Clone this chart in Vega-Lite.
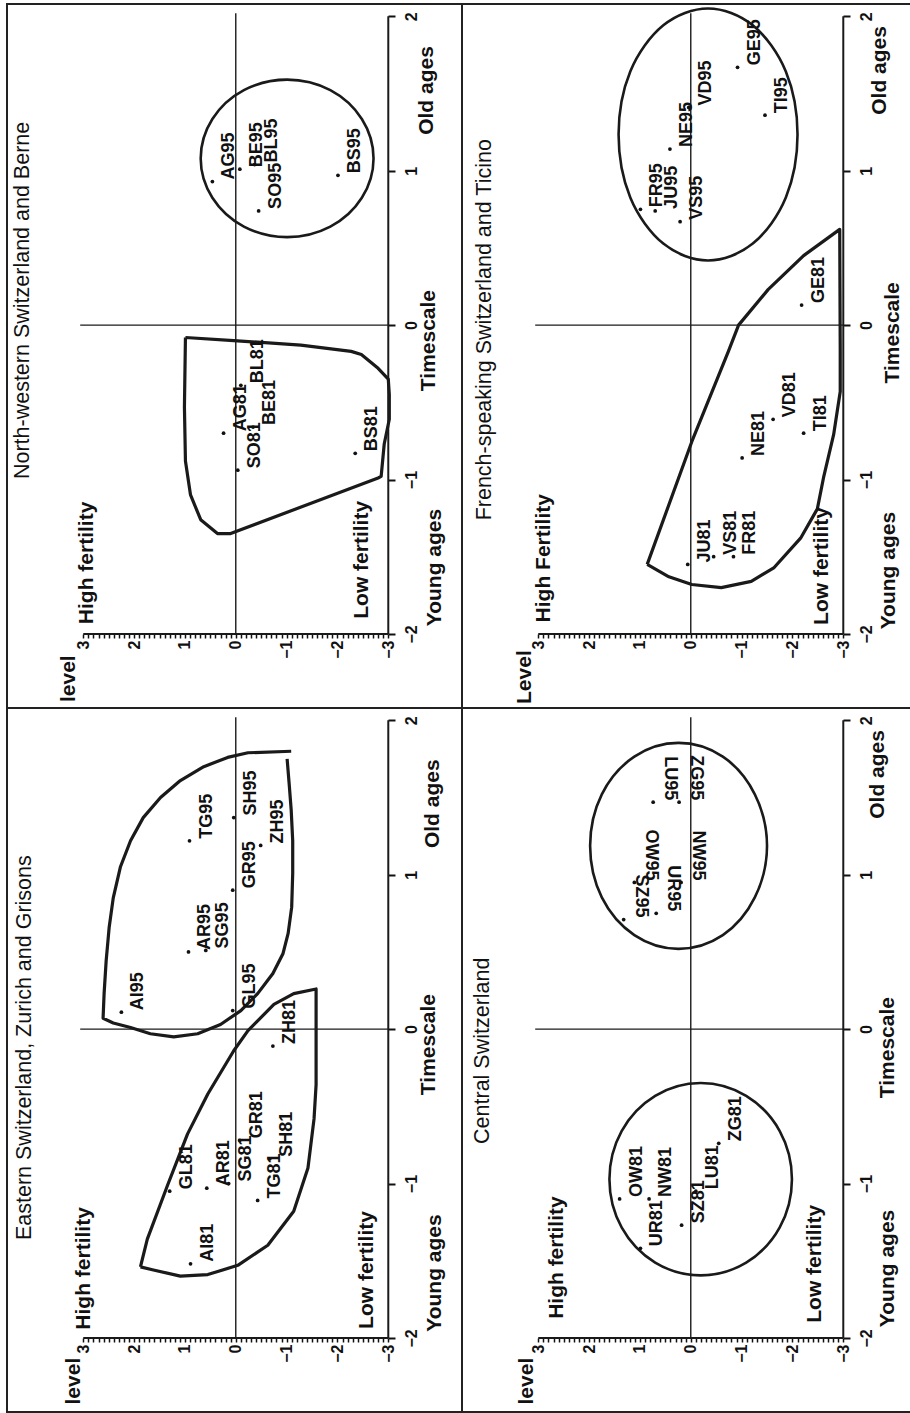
{
  "$schema": "https://vega.github.io/schema/vega-lite/v6.json",
  "padding": {"left": 6, "top": 2, "right": 0, "bottom": 0},
  "background": "white",
  "data": {"values": [
    {"type":"ref","panel":"NW","line":"cross","level":0,"level2":0,"ts":-2,"ts2":2.02},
    {"type":"ref","panel":"NW","line":"cross","level":3.06,"level2":-3,"ts":0,"ts2":0},
    {"type":"ref","panel":"NW","line":"axis","level":3,"level2":-3,"ts":-2,"ts2":-2},
    {"type":"ref","panel":"NW","line":"axis","level":-3,"level2":-3,"ts":-2,"ts2":2},
    {"type":"ref","panel":"FR","line":"cross","level":0,"level2":0,"ts":-2,"ts2":2.02},
    {"type":"ref","panel":"FR","line":"cross","level":3.06,"level2":-3,"ts":0,"ts2":0},
    {"type":"ref","panel":"FR","line":"axis","level":3,"level2":-3,"ts":-2,"ts2":-2},
    {"type":"ref","panel":"FR","line":"axis","level":-3,"level2":-3,"ts":-2,"ts2":2},
    {"type":"ref","panel":"EA","line":"cross","level":0,"level2":0,"ts":-2,"ts2":2.02},
    {"type":"ref","panel":"EA","line":"cross","level":3.06,"level2":-3,"ts":0,"ts2":0},
    {"type":"ref","panel":"EA","line":"axis","level":3,"level2":-3,"ts":-2,"ts2":-2},
    {"type":"ref","panel":"EA","line":"axis","level":-3,"level2":-3,"ts":-2,"ts2":2},
    {"type":"ref","panel":"CE","line":"cross","level":0,"level2":0,"ts":-2,"ts2":2.02},
    {"type":"ref","panel":"CE","line":"cross","level":3.06,"level2":-3,"ts":0,"ts2":0},
    {"type":"ref","panel":"CE","line":"axis","level":3,"level2":-3,"ts":-2,"ts2":-2},
    {"type":"ref","panel":"CE","line":"axis","level":-3,"level2":-3,"ts":-2,"ts2":2},

    {"type":"title","panel":"NW","label":"North-western Switzerland and Berne","level":4.18,"ts":0.16},
    {"type":"note","panel":"NW","label":"level","level":3.28,"ts":-2.29},
    {"type":"note","panel":"NW","label":"High fertility","level":2.92,"ts":-1.54},
    {"type":"note","panel":"NW","label":"Low fertility","level":-2.49,"ts":-1.52},
    {"type":"note","panel":"NW","label":"Young ages","level":-3.91,"ts":-1.57},
    {"type":"note","panel":"NW","label":"Timescale","level":-3.81,"ts":-0.1},
    {"type":"note","panel":"NW","label":"Old ages","level":-3.77,"ts":1.52},
    {"type":"title","panel":"FR","label":"French-speaking Switzerland and Ticino","level":4.05,"ts":-0.03},
    {"type":"note","panel":"FR","label":"Level","level":3.27,"ts":-2.28},
    {"type":"note","panel":"FR","label":"High Fertility","level":2.88,"ts":-1.51},
    {"type":"note","panel":"FR","label":"Low fertility","level":-2.59,"ts":-1.56},
    {"type":"note","panel":"FR","label":"Young ages","level":-3.9,"ts":-1.59},
    {"type":"note","panel":"FR","label":"Timescale","level":-3.97,"ts":-0.05},
    {"type":"note","panel":"FR","label":"Old ages","level":-3.72,"ts":1.65},
    {"type":"title","panel":"EA","label":"Eastern Switzerland, Zurich and Grisons","level":4.14,"ts":-0.12},
    {"type":"note","panel":"EA","label":"level","level":3.18,"ts":-2.28},
    {"type":"note","panel":"EA","label":"High fertility","level":2.98,"ts":-1.55},
    {"type":"note","panel":"EA","label":"Low fertility","level":-2.59,"ts":-1.56},
    {"type":"note","panel":"EA","label":"Young ages","level":-3.91,"ts":-1.58},
    {"type":"note","panel":"EA","label":"Timescale","level":-3.81,"ts":-0.1},
    {"type":"note","panel":"EA","label":"Old ages","level":-3.87,"ts":1.46},
    {"type":"title","panel":"CE","label":"Central Switzerland","level":4.09,"ts":-0.14},
    {"type":"note","panel":"CE","label":"level","level":3.23,"ts":-2.28},
    {"type":"note","panel":"CE","label":"High fertility","level":2.63,"ts":-1.48},
    {"type":"note","panel":"CE","label":"Low fertility","level":-2.45,"ts":-1.52},
    {"type":"note","panel":"CE","label":"Young ages","level":-3.88,"ts":-1.55},
    {"type":"note","panel":"CE","label":"Timescale","level":-3.88,"ts":-0.12},
    {"type":"note","panel":"CE","label":"Old ages","level":-3.68,"ts":1.65},

    {"type":"obs","panel":"NW","label":"AG95","year":95,"level":0.46,"ts":0.93},
    {"type":"obs","panel":"NW","label":"BE95","year":95,"level":-0.08,"ts":1.01},
    {"type":"obs","panel":"NW","label":"SO95","year":95,"level":-0.45,"ts":0.74},
    {"type":"obs","panel":"NW","label":"BL95","year":95,"level":-0.37,"ts":1.04},
    {"type":"obs","panel":"NW","label":"BS95","year":95,"level":-2.01,"ts":0.97},
    {"type":"obs","panel":"NW","label":"AG81","year":81,"level":0.24,"ts":-0.70},
    {"type":"obs","panel":"NW","label":"SO81","year":81,"level":-0.04,"ts":-0.94},
    {"type":"obs","panel":"NW","label":"BL81","year":81,"level":-0.10,"ts":-0.39},
    {"type":"obs","panel":"NW","label":"BE81","year":81,"level":-0.34,"ts":-0.66},
    {"type":"obs","panel":"NW","label":"BS81","year":81,"level":-2.35,"ts":-0.83},

    {"type":"obs","panel":"EA","label":"AI95","year":95,"level":2.25,"ts":0.11},
    {"type":"obs","panel":"EA","label":"AR95","year":95,"level":0.93,"ts":0.50},
    {"type":"obs","panel":"EA","label":"SG95","year":95,"level":0.59,"ts":0.51},
    {"type":"obs","panel":"EA","label":"TG95","year":95,"level":0.91,"ts":1.22},
    {"type":"obs","panel":"EA","label":"GL95","year":95,"level":0.06,"ts":0.12},
    {"type":"obs","panel":"EA","label":"GR95","year":95,"level":0.06,"ts":0.90},
    {"type":"obs","panel":"EA","label":"ZH95","year":95,"level":-0.49,"ts":1.19},
    {"type":"obs","panel":"EA","label":"SH95","year":95,"level":0.04,"ts":1.37},
    {"type":"obs","panel":"EA","label":"AI81","year":81,"level":0.89,"ts":-1.52},
    {"type":"obs","panel":"EA","label":"GL81","year":81,"level":1.30,"ts":-1.05},
    {"type":"obs","panel":"EA","label":"AR81","year":81,"level":0.57,"ts":-1.03},
    {"type":"obs","panel":"EA","label":"SG81","year":81,"level":0.14,"ts":-1.00},
    {"type":"obs","panel":"EA","label":"GR81","year":81,"level":-0.08,"ts":-0.72},
    {"type":"obs","panel":"EA","label":"TG81","year":81,"level":-0.43,"ts":-1.11},
    {"type":"obs","panel":"EA","label":"SH81","year":81,"level":-0.67,"ts":-0.84},
    {"type":"obs","panel":"EA","label":"ZH81","year":81,"level":-0.73,"ts":-0.11},

    {"type":"obs","panel":"CE","label":"SZ95","year":95,"level":1.32,"ts":0.71},
    {"type":"obs","panel":"CE","label":"OW95","year":95,"level":1.11,"ts":0.95},
    {"type":"obs","panel":"CE","label":"UR95","year":95,"level":0.68,"ts":0.75},
    {"type":"obs","panel":"CE","label":"NW95","year":95,"level":0.19,"ts":0.95},
    {"type":"obs","panel":"CE","label":"LU95","year":95,"level":0.74,"ts":1.47},
    {"type":"obs","panel":"CE","label":"ZG95","year":95,"level":0.23,"ts":1.47},
    {"type":"obs","panel":"CE","label":"OW81","year":81,"level":1.40,"ts":-1.10},
    {"type":"obs","panel":"CE","label":"UR81","year":81,"level":0.99,"ts":-1.42},
    {"type":"obs","panel":"CE","label":"NW81","year":81,"level":0.82,"ts":-1.10},
    {"type":"obs","panel":"CE","label":"SZ81","year":81,"level":0.18,"ts":-1.27},
    {"type":"obs","panel":"CE","label":"LU81","year":81,"level":-0.10,"ts":-1.05},
    {"type":"obs","panel":"CE","label":"ZG81","year":81,"level":-0.55,"ts":-0.74},

    {"type":"obs","panel":"FR","label":"FR95","year":95,"level":0.99,"ts":0.75},
    {"type":"obs","panel":"FR","label":"JU95","year":95,"level":0.70,"ts":0.74},
    {"type":"obs","panel":"FR","label":"VS95","year":95,"level":0.21,"ts":0.67},
    {"type":"obs","panel":"FR","label":"NE95","year":95,"level":0.41,"ts":1.14},
    {"type":"obs","panel":"FR","label":"VD95","year":95,"level":0.04,"ts":1.41},
    {"type":"obs","panel":"FR","label":"GE95","year":95,"level":-0.92,"ts":1.67},
    {"type":"obs","panel":"FR","label":"TI95","year":95,"level":-1.46,"ts":1.36},
    {"type":"obs","panel":"FR","label":"JU81","year":81,"level":0.06,"ts":-1.55},
    {"type":"obs","panel":"FR","label":"VS81","year":81,"level":-0.45,"ts":-1.50},
    {"type":"obs","panel":"FR","label":"FR81","year":81,"level":-0.84,"ts":-1.50},
    {"type":"obs","panel":"FR","label":"NE81","year":81,"level":-1.01,"ts":-0.86},
    {"type":"obs","panel":"FR","label":"VD81","year":81,"level":-1.62,"ts":-0.61},
    {"type":"obs","panel":"FR","label":"TI81","year":81,"level":-2.22,"ts":-0.70},
    {"type":"obs","panel":"FR","label":"GE81","year":81,"level":-2.18,"ts":0.13},

    {"type":"outline","panel":"NW","shape":"NW95","i":0,"level":0.69,"ts":1.08},
    {"type":"outline","panel":"NW","shape":"NW95","i":1,"level":0.46,"ts":1.335},
    {"type":"outline","panel":"NW","shape":"NW95","i":2,"level":-0.16,"ts":1.522},
    {"type":"outline","panel":"NW","shape":"NW95","i":3,"level":-1.01,"ts":1.59},
    {"type":"outline","panel":"NW","shape":"NW95","i":4,"level":-1.86,"ts":1.522},
    {"type":"outline","panel":"NW","shape":"NW95","i":5,"level":-2.48,"ts":1.335},
    {"type":"outline","panel":"NW","shape":"NW95","i":6,"level":-2.71,"ts":1.08},
    {"type":"outline","panel":"NW","shape":"NW95","i":7,"level":-2.48,"ts":0.825},
    {"type":"outline","panel":"NW","shape":"NW95","i":8,"level":-1.86,"ts":0.638},
    {"type":"outline","panel":"NW","shape":"NW95","i":9,"level":-1.01,"ts":0.57},
    {"type":"outline","panel":"NW","shape":"NW95","i":10,"level":-0.16,"ts":0.638},
    {"type":"outline","panel":"NW","shape":"NW95","i":11,"level":0.46,"ts":0.825},

    {"type":"outline","panel":"FR","shape":"FR95","i":0,"level":1.42,"ts":1.235},
    {"type":"outline","panel":"FR","shape":"FR95","i":1,"level":1.19,"ts":1.643},
    {"type":"outline","panel":"FR","shape":"FR95","i":2,"level":0.54,"ts":1.942},
    {"type":"outline","panel":"FR","shape":"FR95","i":3,"level":-0.34,"ts":2.051},
    {"type":"outline","panel":"FR","shape":"FR95","i":4,"level":-1.22,"ts":1.942},
    {"type":"outline","panel":"FR","shape":"FR95","i":5,"level":-1.87,"ts":1.643},
    {"type":"outline","panel":"FR","shape":"FR95","i":6,"level":-2.10,"ts":1.235},
    {"type":"outline","panel":"FR","shape":"FR95","i":7,"level":-1.87,"ts":0.827},
    {"type":"outline","panel":"FR","shape":"FR95","i":8,"level":-1.22,"ts":0.528},
    {"type":"outline","panel":"FR","shape":"FR95","i":9,"level":-0.34,"ts":0.419},
    {"type":"outline","panel":"FR","shape":"FR95","i":10,"level":0.54,"ts":0.528},
    {"type":"outline","panel":"FR","shape":"FR95","i":11,"level":1.19,"ts":0.827},

    {"type":"outline","panel":"CE","shape":"CE95","i":0,"level":1.98,"ts":1.187},
    {"type":"outline","panel":"CE","shape":"CE95","i":1,"level":1.75,"ts":1.521},
    {"type":"outline","panel":"CE","shape":"CE95","i":2,"level":1.11,"ts":1.765},
    {"type":"outline","panel":"CE","shape":"CE95","i":3,"level":0.24,"ts":1.854},
    {"type":"outline","panel":"CE","shape":"CE95","i":4,"level":-0.63,"ts":1.765},
    {"type":"outline","panel":"CE","shape":"CE95","i":5,"level":-1.26,"ts":1.521},
    {"type":"outline","panel":"CE","shape":"CE95","i":6,"level":-1.50,"ts":1.187},
    {"type":"outline","panel":"CE","shape":"CE95","i":7,"level":-1.26,"ts":0.853},
    {"type":"outline","panel":"CE","shape":"CE95","i":8,"level":-0.63,"ts":0.609},
    {"type":"outline","panel":"CE","shape":"CE95","i":9,"level":0.24,"ts":0.52},
    {"type":"outline","panel":"CE","shape":"CE95","i":10,"level":1.11,"ts":0.609},
    {"type":"outline","panel":"CE","shape":"CE95","i":11,"level":1.75,"ts":0.853},

    {"type":"outline","panel":"CE","shape":"CE81","i":0,"level":1.60,"ts":-0.972},
    {"type":"outline","panel":"CE","shape":"CE81","i":1,"level":1.36,"ts":-0.66},
    {"type":"outline","panel":"CE","shape":"CE81","i":2,"level":0.70,"ts":-0.432},
    {"type":"outline","panel":"CE","shape":"CE81","i":3,"level":-0.195,"ts":-0.349},
    {"type":"outline","panel":"CE","shape":"CE81","i":4,"level":-1.09,"ts":-0.432},
    {"type":"outline","panel":"CE","shape":"CE81","i":5,"level":-1.75,"ts":-0.66},
    {"type":"outline","panel":"CE","shape":"CE81","i":6,"level":-1.99,"ts":-0.972},
    {"type":"outline","panel":"CE","shape":"CE81","i":7,"level":-1.75,"ts":-1.284},
    {"type":"outline","panel":"CE","shape":"CE81","i":8,"level":-1.09,"ts":-1.512},
    {"type":"outline","panel":"CE","shape":"CE81","i":9,"level":-0.195,"ts":-1.595},
    {"type":"outline","panel":"CE","shape":"CE81","i":10,"level":0.70,"ts":-1.512},
    {"type":"outline","panel":"CE","shape":"CE81","i":11,"level":1.36,"ts":-1.284},

    {"type":"outline","panel":"NW","shape":"NW81","i":0,"level":0.99,"ts":-0.08},
    {"type":"outline","panel":"NW","shape":"NW81","i":1,"level":0.04,"ts":-0.10},
    {"type":"outline","panel":"NW","shape":"NW81","i":2,"level":-1.28,"ts":-0.13},
    {"type":"outline","panel":"NW","shape":"NW81","i":3,"level":-2.27,"ts":-0.17},
    {"type":"outline","panel":"NW","shape":"NW81","i":4,"level":-2.47,"ts":-0.19},
    {"type":"outline","panel":"NW","shape":"NW81","i":5,"level":-2.80,"ts":-0.28},
    {"type":"outline","panel":"NW","shape":"NW81","i":6,"level":-3.00,"ts":-0.35},
    {"type":"outline","panel":"NW","shape":"NW81","i":7,"level":-3.02,"ts":-0.45},
    {"type":"outline","panel":"NW","shape":"NW81","i":8,"level":-3.02,"ts":-0.61},
    {"type":"outline","panel":"NW","shape":"NW81","i":9,"level":-2.92,"ts":-0.77},
    {"type":"outline","panel":"NW","shape":"NW81","i":10,"level":-2.86,"ts":-0.98},
    {"type":"outline","panel":"NW","shape":"NW81","i":11,"level":-2.80,"ts":-0.99},
    {"type":"outline","panel":"NW","shape":"NW81","i":12,"level":0.10,"ts":-1.35},
    {"type":"outline","panel":"NW","shape":"NW81","i":13,"level":0.36,"ts":-1.35},
    {"type":"outline","panel":"NW","shape":"NW81","i":14,"level":0.69,"ts":-1.26},
    {"type":"outline","panel":"NW","shape":"NW81","i":15,"level":0.89,"ts":-1.10},
    {"type":"outline","panel":"NW","shape":"NW81","i":16,"level":0.99,"ts":-0.88},
    {"type":"outline","panel":"NW","shape":"NW81","i":17,"level":1.01,"ts":-0.53},
    {"type":"outline","panel":"NW","shape":"NW81","i":18,"level":0.99,"ts":-0.08},

    {"type":"outline","panel":"EA","shape":"EA81","i":0,"level":1.875,"ts":-1.54},
    {"type":"outline","panel":"EA","shape":"EA81","i":1,"level":1.74,"ts":-1.36},
    {"type":"outline","panel":"EA","shape":"EA81","i":2,"level":1.34,"ts":-1.01},
    {"type":"outline","panel":"EA","shape":"EA81","i":3,"level":0.95,"ts":-0.68},
    {"type":"outline","panel":"EA","shape":"EA81","i":4,"level":0.55,"ts":-0.42},
    {"type":"outline","panel":"EA","shape":"EA81","i":5,"level":0.04,"ts":-0.14},
    {"type":"outline","panel":"EA","shape":"EA81","i":6,"level":-0.24,"ts":-0.01},
    {"type":"outline","panel":"EA","shape":"EA81","i":7,"level":-0.75,"ts":0.16},
    {"type":"outline","panel":"EA","shape":"EA81","i":8,"level":-1.14,"ts":0.23},
    {"type":"outline","panel":"EA","shape":"EA81","i":9,"level":-1.58,"ts":0.26},
    {"type":"outline","panel":"EA","shape":"EA81","i":10,"level":-1.58,"ts":-0.14},
    {"type":"outline","panel":"EA","shape":"EA81","i":11,"level":-1.58,"ts":-0.36},
    {"type":"outline","panel":"EA","shape":"EA81","i":12,"level":-1.54,"ts":-0.58},
    {"type":"outline","panel":"EA","shape":"EA81","i":13,"level":-1.42,"ts":-0.90},
    {"type":"outline","panel":"EA","shape":"EA81","i":14,"level":-1.14,"ts":-1.18},
    {"type":"outline","panel":"EA","shape":"EA81","i":15,"level":-0.63,"ts":-1.40},
    {"type":"outline","panel":"EA","shape":"EA81","i":16,"level":-0.04,"ts":-1.53},
    {"type":"outline","panel":"EA","shape":"EA81","i":17,"level":0.55,"ts":-1.59},
    {"type":"outline","panel":"EA","shape":"EA81","i":18,"level":1.09,"ts":-1.60},
    {"type":"outline","panel":"EA","shape":"EA81","i":19,"level":1.62,"ts":-1.56},
    {"type":"outline","panel":"EA","shape":"EA81","i":20,"level":1.875,"ts":-1.54},

    {"type":"outline","panel":"EA","shape":"EA95","i":0,"level":-1.01,"ts":1.75},
    {"type":"outline","panel":"EA","shape":"EA95","i":1,"level":-1.05,"ts":1.59},
    {"type":"outline","panel":"EA","shape":"EA95","i":2,"level":-1.09,"ts":1.42},
    {"type":"outline","panel":"EA","shape":"EA95","i":3,"level":-1.12,"ts":1.22},
    {"type":"outline","panel":"EA","shape":"EA95","i":4,"level":-1.12,"ts":1.01},
    {"type":"outline","panel":"EA","shape":"EA95","i":5,"level":-1.10,"ts":0.79},
    {"type":"outline","panel":"EA","shape":"EA95","i":6,"level":-1.03,"ts":0.62},
    {"type":"outline","panel":"EA","shape":"EA95","i":7,"level":-0.93,"ts":0.49},
    {"type":"outline","panel":"EA","shape":"EA95","i":8,"level":-0.73,"ts":0.36},
    {"type":"outline","panel":"EA","shape":"EA95","i":9,"level":-0.43,"ts":0.23},
    {"type":"outline","panel":"EA","shape":"EA95","i":10,"level":-0.10,"ts":0.12},
    {"type":"outline","panel":"EA","shape":"EA95","i":11,"level":0.30,"ts":0.03},
    {"type":"outline","panel":"EA","shape":"EA95","i":12,"level":0.75,"ts":-0.03},
    {"type":"outline","panel":"EA","shape":"EA95","i":13,"level":1.22,"ts":-0.05},
    {"type":"outline","panel":"EA","shape":"EA95","i":14,"level":1.68,"ts":-0.03},
    {"type":"outline","panel":"EA","shape":"EA95","i":15,"level":2.07,"ts":0.01},
    {"type":"outline","panel":"EA","shape":"EA95","i":16,"level":2.41,"ts":0.04},
    {"type":"outline","panel":"EA","shape":"EA95","i":17,"level":2.61,"ts":0.07},
    {"type":"outline","panel":"EA","shape":"EA95","i":18,"level":2.59,"ts":0.23},
    {"type":"outline","panel":"EA","shape":"EA95","i":19,"level":2.55,"ts":0.44},
    {"type":"outline","panel":"EA","shape":"EA95","i":20,"level":2.49,"ts":0.66},
    {"type":"outline","panel":"EA","shape":"EA95","i":21,"level":2.41,"ts":0.85},
    {"type":"outline","panel":"EA","shape":"EA95","i":22,"level":2.27,"ts":1.05},
    {"type":"outline","panel":"EA","shape":"EA95","i":23,"level":2.07,"ts":1.22},
    {"type":"outline","panel":"EA","shape":"EA95","i":24,"level":1.82,"ts":1.37},
    {"type":"outline","panel":"EA","shape":"EA95","i":25,"level":1.48,"ts":1.50},
    {"type":"outline","panel":"EA","shape":"EA95","i":26,"level":1.09,"ts":1.61},
    {"type":"outline","panel":"EA","shape":"EA95","i":27,"level":0.63,"ts":1.70},
    {"type":"outline","panel":"EA","shape":"EA95","i":28,"level":0.16,"ts":1.76},
    {"type":"outline","panel":"EA","shape":"EA95","i":29,"level":-0.24,"ts":1.79},
    {"type":"outline","panel":"EA","shape":"EA95","i":30,"level":-1.09,"ts":1.80},

    {"type":"outline","panel":"FR","shape":"FR81","i":0,"level":0.857,"ts":-1.55},
    {"type":"outline","panel":"FR","shape":"FR81","i":1,"level":-0.02,"ts":-0.755},
    {"type":"outline","panel":"FR","shape":"FR81","i":2,"level":-0.74,"ts":-0.17},
    {"type":"outline","panel":"FR","shape":"FR81","i":3,"level":-0.94,"ts":0.0},
    {"type":"outline","panel":"FR","shape":"FR81","i":4,"level":-1.52,"ts":0.23},
    {"type":"outline","panel":"FR","shape":"FR81","i":5,"level":-2.22,"ts":0.45},
    {"type":"outline","panel":"FR","shape":"FR81","i":6,"level":-2.93,"ts":0.62},
    {"type":"outline","panel":"FR","shape":"FR81","i":7,"level":-2.94,"ts":-0.17},
    {"type":"outline","panel":"FR","shape":"FR81","i":8,"level":-2.94,"ts":-0.43},
    {"type":"outline","panel":"FR","shape":"FR81","i":9,"level":-2.81,"ts":-0.71},
    {"type":"outline","panel":"FR","shape":"FR81","i":10,"level":-2.61,"ts":-0.99},
    {"type":"outline","panel":"FR","shape":"FR81","i":11,"level":-2.49,"ts":-1.19},
    {"type":"outline","panel":"FR","shape":"FR81","i":12,"level":-2.16,"ts":-1.38},
    {"type":"outline","panel":"FR","shape":"FR81","i":13,"level":-1.64,"ts":-1.57},
    {"type":"outline","panel":"FR","shape":"FR81","i":14,"level":-1.19,"ts":-1.66},
    {"type":"outline","panel":"FR","shape":"FR81","i":15,"level":-0.60,"ts":-1.70},
    {"type":"outline","panel":"FR","shape":"FR81","i":16,"level":-0.02,"ts":-1.68},
    {"type":"outline","panel":"FR","shape":"FR81","i":17,"level":0.43,"ts":-1.63},
    {"type":"outline","panel":"FR","shape":"FR81","i":18,"level":0.857,"ts":-1.55}
  ]},
  "columns": 2,
  "spacing": 0,
  "bounds": "flush",
  "concat": [
    {"width": 455, "height": 704,
     "transform": [{"filter": "datum.panel == 'NW'"}],
     "encoding": {
      "x": {"field": "level", "type": "quantitative",
        "scale": {"domain": [-4.45, 4.5], "reverse": true, "nice": false, "zero": false},
        "axis": {"orient": "bottom", "offset": -74, "domain": false, "grid": false, "title": null,
          "values": [-3,-2.9,-2.8,-2.7,-2.6,-2.5,-2.4,-2.3,-2.2,-2.1,-2,-1.9,-1.8,-1.7,-1.6,-1.5,-1.4,-1.3,-1.2,-1.1,-1,-0.9,-0.8,-0.7,-0.6,-0.5,-0.4,-0.3,-0.2,-0.1,0,0.1,0.2,0.3,0.4,0.5,0.6,0.7,0.8,0.9,1,1.1,1.2,1.3,1.4,1.5,1.6,1.7,1.8,1.9,2,2.1,2.2,2.3,2.4,2.5,2.6,2.7,2.8,2.9,3],
          "labelExpr": "abs(datum.value - round(datum.value)) < 0.001 ? format(datum.value, 'd') : ''",
          "tickSize": 4, "tickWidth": 1.5, "tickColor": "#111",
          "labelAngle": 270, "labelAlign": "right", "labelBaseline": "middle", "labelPadding": 2,
          "labelFont": "Liberation Sans", "labelFontSize": 16, "labelFontWeight": "bold", "labelColor": "#111",
          "labelOverlap": false, "labelFlush": false, "labelBound": false}},
      "y": {"field": "ts", "type": "quantitative",
        "scale": {"domain": [-2.48, 2.08], "nice": false, "zero": false},
        "axis": {"orient": "right", "offset": -74, "domain": false, "grid": false, "title": null,
          "values": [-2, -1, 0, 1, 2],
          "labelExpr": "format(datum.value, 'd')",
          "tickSize": 7, "tickWidth": 2, "tickColor": "#111",
          "labelAngle": 270, "labelAlign": "center", "labelBaseline": "top", "labelPadding": 8,
          "labelFont": "Liberation Sans", "labelFontSize": 16, "labelFontWeight": "bold", "labelColor": "#111",
          "labelOverlap": false, "labelFlush": false, "labelBound": false}}
     },
     "layer": [
      {"transform": [{"filter": "datum.type == 'ref' && datum.line == 'cross'"}],
       "mark": {"type": "rule", "color": "#1a1a1a", "strokeWidth": 1.4},
       "encoding": {"x2": {"field": "level2"}, "y2": {"field": "ts2"}}},
      {"transform": [{"filter": "datum.type == 'ref' && datum.line == 'axis'"}],
       "mark": {"type": "rule", "color": "#1a1a1a", "strokeWidth": 2},
       "encoding": {"x2": {"field": "level2"}, "y2": {"field": "ts2"}}},
      {"transform": [{"filter": "datum.type == 'outline' && indexof(['NW95','FR95','CE95','CE81'], datum.shape) >= 0"}],
       "mark": {"type": "line", "interpolate": "cardinal-closed", "color": "#1a1a1a", "strokeWidth": 2.6},
       "encoding": {"detail": {"field": "shape"}, "order": {"field": "i", "type": "quantitative"}}},
      {"transform": [{"filter": "datum.type == 'outline' && indexof(['NW81','EA81','EA95','FR81'], datum.shape) >= 0"}],
       "mark": {"type": "line", "interpolate": "linear", "color": "#1a1a1a", "strokeWidth": 3.2, "strokeJoin": "round"},
       "encoding": {"detail": {"field": "shape"}, "order": {"field": "i", "type": "quantitative"}}},
      {"transform": [{"filter": "datum.type == 'obs'"}],
       "mark": {"type": "point", "filled": true, "size": 14, "color": "#111", "opacity": 1}},
      {"transform": [{"filter": "datum.type == 'obs' && !(datum.panel == 'CE' && datum.year == 95)"}],
       "mark": {"type": "text", "angle": 270, "align": "left", "baseline": "middle", "dx": 2, "dy": 17,
         "font": "Liberation Sans", "fontSize": 18, "fontWeight": "bold", "color": "#111"},
       "encoding": {"text": {"field": "label"}}},
      {"transform": [{"filter": "datum.type == 'note'"}],
       "mark": {"type": "text", "angle": 270, "align": "center", "baseline": "middle",
         "font": "Liberation Sans", "fontSize": 21, "fontWeight": "bold", "color": "#111"},
       "encoding": {"text": {"field": "label"}}},
      {"transform": [{"filter": "datum.type == 'title'"}],
       "mark": {"type": "text", "angle": 270, "align": "center", "baseline": "middle",
         "font": "Liberation Sans", "fontSize": 21.5, "fontWeight": "normal", "color": "#111"},
       "encoding": {"text": {"field": "label"}}}
     ]},
    {"width": 455, "height": 704,
     "transform": [{"filter": "datum.panel == 'FR'"}],
     "encoding": {
      "x": {"field": "level", "type": "quantitative",
        "scale": {"domain": [-4.45, 4.5], "reverse": true, "nice": false, "zero": false},
        "axis": {"orient": "bottom", "offset": -74, "domain": false, "grid": false, "title": null,
          "values": [-3,-2.9,-2.8,-2.7,-2.6,-2.5,-2.4,-2.3,-2.2,-2.1,-2,-1.9,-1.8,-1.7,-1.6,-1.5,-1.4,-1.3,-1.2,-1.1,-1,-0.9,-0.8,-0.7,-0.6,-0.5,-0.4,-0.3,-0.2,-0.1,0,0.1,0.2,0.3,0.4,0.5,0.6,0.7,0.8,0.9,1,1.1,1.2,1.3,1.4,1.5,1.6,1.7,1.8,1.9,2,2.1,2.2,2.3,2.4,2.5,2.6,2.7,2.8,2.9,3],
          "labelExpr": "abs(datum.value - round(datum.value)) < 0.001 ? format(datum.value, 'd') : ''",
          "tickSize": 4, "tickWidth": 1.5, "tickColor": "#111",
          "labelAngle": 270, "labelAlign": "right", "labelBaseline": "middle", "labelPadding": 2,
          "labelFont": "Liberation Sans", "labelFontSize": 16, "labelFontWeight": "bold", "labelColor": "#111",
          "labelOverlap": false, "labelFlush": false, "labelBound": false}},
      "y": {"field": "ts", "type": "quantitative",
        "scale": {"domain": [-2.48, 2.08], "nice": false, "zero": false},
        "axis": {"orient": "right", "offset": -74, "domain": false, "grid": false, "title": null,
          "values": [-2, -1, 0, 1, 2],
          "labelExpr": "format(datum.value, 'd')",
          "tickSize": 7, "tickWidth": 2, "tickColor": "#111",
          "labelAngle": 270, "labelAlign": "center", "labelBaseline": "top", "labelPadding": 8,
          "labelFont": "Liberation Sans", "labelFontSize": 16, "labelFontWeight": "bold", "labelColor": "#111",
          "labelOverlap": false, "labelFlush": false, "labelBound": false}}
     },
     "layer": [
      {"transform": [{"filter": "datum.type == 'ref' && datum.line == 'cross'"}],
       "mark": {"type": "rule", "color": "#1a1a1a", "strokeWidth": 1.4},
       "encoding": {"x2": {"field": "level2"}, "y2": {"field": "ts2"}}},
      {"transform": [{"filter": "datum.type == 'ref' && datum.line == 'axis'"}],
       "mark": {"type": "rule", "color": "#1a1a1a", "strokeWidth": 2},
       "encoding": {"x2": {"field": "level2"}, "y2": {"field": "ts2"}}},
      {"transform": [{"filter": "datum.type == 'outline' && indexof(['NW95','FR95','CE95','CE81'], datum.shape) >= 0"}],
       "mark": {"type": "line", "interpolate": "cardinal-closed", "color": "#1a1a1a", "strokeWidth": 2.6},
       "encoding": {"detail": {"field": "shape"}, "order": {"field": "i", "type": "quantitative"}}},
      {"transform": [{"filter": "datum.type == 'outline' && indexof(['NW81','EA81','EA95','FR81'], datum.shape) >= 0"}],
       "mark": {"type": "line", "interpolate": "linear", "color": "#1a1a1a", "strokeWidth": 3.2, "strokeJoin": "round"},
       "encoding": {"detail": {"field": "shape"}, "order": {"field": "i", "type": "quantitative"}}},
      {"transform": [{"filter": "datum.type == 'obs'"}],
       "mark": {"type": "point", "filled": true, "size": 14, "color": "#111", "opacity": 1}},
      {"transform": [{"filter": "datum.type == 'obs'"}],
       "mark": {"type": "text", "angle": 270, "align": "left", "baseline": "middle", "dx": 2, "dy": 17,
         "font": "Liberation Sans", "fontSize": 18, "fontWeight": "bold", "color": "#111"},
       "encoding": {"text": {"field": "label"}}},
      {"transform": [{"filter": "datum.type == 'note'"}],
       "mark": {"type": "text", "angle": 270, "align": "center", "baseline": "middle",
         "font": "Liberation Sans", "fontSize": 21, "fontWeight": "bold", "color": "#111"},
       "encoding": {"text": {"field": "label"}}},
      {"transform": [{"filter": "datum.type == 'title'"}],
       "mark": {"type": "text", "angle": 270, "align": "center", "baseline": "middle",
         "font": "Liberation Sans", "fontSize": 21.5, "fontWeight": "normal", "color": "#111"},
       "encoding": {"text": {"field": "label"}}}
     ]},
    {"width": 455, "height": 704,
     "transform": [{"filter": "datum.panel == 'EA'"}],
     "encoding": {
      "x": {"field": "level", "type": "quantitative",
        "scale": {"domain": [-4.45, 4.5], "reverse": true, "nice": false, "zero": false},
        "axis": {"orient": "bottom", "offset": -74, "domain": false, "grid": false, "title": null,
          "values": [-3,-2.9,-2.8,-2.7,-2.6,-2.5,-2.4,-2.3,-2.2,-2.1,-2,-1.9,-1.8,-1.7,-1.6,-1.5,-1.4,-1.3,-1.2,-1.1,-1,-0.9,-0.8,-0.7,-0.6,-0.5,-0.4,-0.3,-0.2,-0.1,0,0.1,0.2,0.3,0.4,0.5,0.6,0.7,0.8,0.9,1,1.1,1.2,1.3,1.4,1.5,1.6,1.7,1.8,1.9,2,2.1,2.2,2.3,2.4,2.5,2.6,2.7,2.8,2.9,3],
          "labelExpr": "abs(datum.value - round(datum.value)) < 0.001 ? format(datum.value, 'd') : ''",
          "tickSize": 4, "tickWidth": 1.5, "tickColor": "#111",
          "labelAngle": 270, "labelAlign": "right", "labelBaseline": "middle", "labelPadding": 2,
          "labelFont": "Liberation Sans", "labelFontSize": 16, "labelFontWeight": "bold", "labelColor": "#111",
          "labelOverlap": false, "labelFlush": false, "labelBound": false}},
      "y": {"field": "ts", "type": "quantitative",
        "scale": {"domain": [-2.48, 2.08], "nice": false, "zero": false},
        "axis": {"orient": "right", "offset": -74, "domain": false, "grid": false, "title": null,
          "values": [-2, -1, 0, 1, 2],
          "labelExpr": "format(datum.value, 'd')",
          "tickSize": 7, "tickWidth": 2, "tickColor": "#111",
          "labelAngle": 270, "labelAlign": "center", "labelBaseline": "top", "labelPadding": 8,
          "labelFont": "Liberation Sans", "labelFontSize": 16, "labelFontWeight": "bold", "labelColor": "#111",
          "labelOverlap": false, "labelFlush": false, "labelBound": false}}
     },
     "layer": [
      {"transform": [{"filter": "datum.type == 'ref' && datum.line == 'cross'"}],
       "mark": {"type": "rule", "color": "#1a1a1a", "strokeWidth": 1.4},
       "encoding": {"x2": {"field": "level2"}, "y2": {"field": "ts2"}}},
      {"transform": [{"filter": "datum.type == 'ref' && datum.line == 'axis'"}],
       "mark": {"type": "rule", "color": "#1a1a1a", "strokeWidth": 2},
       "encoding": {"x2": {"field": "level2"}, "y2": {"field": "ts2"}}},
      {"transform": [{"filter": "datum.type == 'outline' && indexof(['NW95','FR95','CE95','CE81'], datum.shape) >= 0"}],
       "mark": {"type": "line", "interpolate": "cardinal-closed", "color": "#1a1a1a", "strokeWidth": 2.6},
       "encoding": {"detail": {"field": "shape"}, "order": {"field": "i", "type": "quantitative"}}},
      {"transform": [{"filter": "datum.type == 'outline' && indexof(['NW81','EA81','EA95','FR81'], datum.shape) >= 0"}],
       "mark": {"type": "line", "interpolate": "linear", "color": "#1a1a1a", "strokeWidth": 3.2, "strokeJoin": "round"},
       "encoding": {"detail": {"field": "shape"}, "order": {"field": "i", "type": "quantitative"}}},
      {"transform": [{"filter": "datum.type == 'obs'"}],
       "mark": {"type": "point", "filled": true, "size": 14, "color": "#111", "opacity": 1}},
      {"transform": [{"filter": "datum.type == 'obs'"}],
       "mark": {"type": "text", "angle": 270, "align": "left", "baseline": "middle", "dx": 2, "dy": 17,
         "font": "Liberation Sans", "fontSize": 18, "fontWeight": "bold", "color": "#111"},
       "encoding": {"text": {"field": "label"}}},
      {"transform": [{"filter": "datum.type == 'note'"}],
       "mark": {"type": "text", "angle": 270, "align": "center", "baseline": "middle",
         "font": "Liberation Sans", "fontSize": 21, "fontWeight": "bold", "color": "#111"},
       "encoding": {"text": {"field": "label"}}},
      {"transform": [{"filter": "datum.type == 'title'"}],
       "mark": {"type": "text", "angle": 270, "align": "center", "baseline": "middle",
         "font": "Liberation Sans", "fontSize": 21.5, "fontWeight": "normal", "color": "#111"},
       "encoding": {"text": {"field": "label"}}}
     ]},
    {"width": 455, "height": 704,
     "transform": [{"filter": "datum.panel == 'CE'"}],
     "encoding": {
      "x": {"field": "level", "type": "quantitative",
        "scale": {"domain": [-4.45, 4.5], "reverse": true, "nice": false, "zero": false},
        "axis": {"orient": "bottom", "offset": -74, "domain": false, "grid": false, "title": null,
          "values": [-3,-2.9,-2.8,-2.7,-2.6,-2.5,-2.4,-2.3,-2.2,-2.1,-2,-1.9,-1.8,-1.7,-1.6,-1.5,-1.4,-1.3,-1.2,-1.1,-1,-0.9,-0.8,-0.7,-0.6,-0.5,-0.4,-0.3,-0.2,-0.1,0,0.1,0.2,0.3,0.4,0.5,0.6,0.7,0.8,0.9,1,1.1,1.2,1.3,1.4,1.5,1.6,1.7,1.8,1.9,2,2.1,2.2,2.3,2.4,2.5,2.6,2.7,2.8,2.9,3],
          "labelExpr": "abs(datum.value - round(datum.value)) < 0.001 ? format(datum.value, 'd') : ''",
          "tickSize": 4, "tickWidth": 1.5, "tickColor": "#111",
          "labelAngle": 270, "labelAlign": "right", "labelBaseline": "middle", "labelPadding": 2,
          "labelFont": "Liberation Sans", "labelFontSize": 16, "labelFontWeight": "bold", "labelColor": "#111",
          "labelOverlap": false, "labelFlush": false, "labelBound": false}},
      "y": {"field": "ts", "type": "quantitative",
        "scale": {"domain": [-2.48, 2.08], "nice": false, "zero": false},
        "axis": {"orient": "right", "offset": -74, "domain": false, "grid": false, "title": null,
          "values": [-2, -1, 0, 1, 2],
          "labelExpr": "format(datum.value, 'd')",
          "tickSize": 7, "tickWidth": 2, "tickColor": "#111",
          "labelAngle": 270, "labelAlign": "center", "labelBaseline": "top", "labelPadding": 8,
          "labelFont": "Liberation Sans", "labelFontSize": 16, "labelFontWeight": "bold", "labelColor": "#111",
          "labelOverlap": false, "labelFlush": false, "labelBound": false}}
     },
     "layer": [
      {"transform": [{"filter": "datum.type == 'ref' && datum.line == 'cross'"}],
       "mark": {"type": "rule", "color": "#1a1a1a", "strokeWidth": 1.4},
       "encoding": {"x2": {"field": "level2"}, "y2": {"field": "ts2"}}},
      {"transform": [{"filter": "datum.type == 'ref' && datum.line == 'axis'"}],
       "mark": {"type": "rule", "color": "#1a1a1a", "strokeWidth": 2},
       "encoding": {"x2": {"field": "level2"}, "y2": {"field": "ts2"}}},
      {"transform": [{"filter": "datum.type == 'outline' && indexof(['NW95','FR95','CE95','CE81'], datum.shape) >= 0"}],
       "mark": {"type": "line", "interpolate": "cardinal-closed", "color": "#1a1a1a", "strokeWidth": 2.6},
       "encoding": {"detail": {"field": "shape"}, "order": {"field": "i", "type": "quantitative"}}},
      {"transform": [{"filter": "datum.type == 'obs'"}],
       "mark": {"type": "point", "filled": true, "size": 14, "color": "#111", "opacity": 1}},
      {"transform": [{"filter": "datum.type == 'obs' && datum.year == 81"}],
       "mark": {"type": "text", "angle": 270, "align": "left", "baseline": "middle", "dx": 2, "dy": 17,
         "font": "Liberation Sans", "fontSize": 18, "fontWeight": "bold", "color": "#111"},
       "encoding": {"text": {"field": "label"}}},
      {"transform": [{"filter": "datum.type == 'obs' && datum.year == 95"}],
       "mark": {"type": "text", "angle": 90, "align": "right", "baseline": "middle", "dx": -2, "dy": -17,
         "font": "Liberation Sans", "fontSize": 18, "fontWeight": "bold", "color": "#111"},
       "encoding": {"text": {"field": "label"}}},
      {"transform": [{"filter": "datum.type == 'note'"}],
       "mark": {"type": "text", "angle": 270, "align": "center", "baseline": "middle",
         "font": "Liberation Sans", "fontSize": 21, "fontWeight": "bold", "color": "#111"},
       "encoding": {"text": {"field": "label"}}},
      {"transform": [{"filter": "datum.type == 'title'"}],
       "mark": {"type": "text", "angle": 270, "align": "center", "baseline": "middle",
         "font": "Liberation Sans", "fontSize": 21.5, "fontWeight": "normal", "color": "#111"},
       "encoding": {"text": {"field": "label"}}}
     ]}
  ],
  "config": {
    "view": {"stroke": "#222", "strokeWidth": 2},
    "concat": {"spacing": 0}
  }
}
